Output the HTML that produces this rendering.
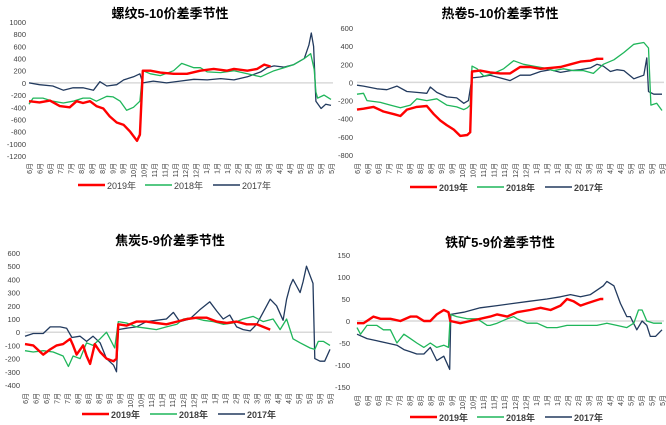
<!DOCTYPE html>
<html><head><meta charset="utf-8"><style>
body{margin:0;background:#fff;}
svg{display:block;font-family:"Liberation Sans","Noto Sans CJK SC",sans-serif;}
</style></head><body>
<svg id="chart" width="666" height="425" viewBox="0 0 666 425"></svg>
<script>
const NS="http://www.w3.org/2000/svg";
const svg=document.getElementById("chart");
const monthLabels=["6月","6月","6月","7月","7月","8月","8月","8月","9月","9月","10月","10月","11月","11月","11月","12月","12月","1月","1月","1月","2月","2月","3月","3月","4月","4月","5月","5月","5月","5月"];
const seriesNames=["2019年","2018年","2017年"];
const seriesColors=["#ff0000","#1fb65a","#223a5e"];
// P1 rebar 5-10 (x in weeks of season, y in yuan)
const p1Ticks=[1000,800,600,400,200,0,-200,-400,-600,-800,-1000,-1200];
const p1Red=[[0,-300],[1.8,-320],[3.6,-290],[5.3,-380],[7,-400],[8.2,-300],[9.3,-330],[10.5,-300],[11.6,-380],[12.8,-420],[13.9,-550],[15.1,-650],[16.3,-690],[17.4,-800],[18.6,-950],[19.1,-850],[19.6,200],[20.9,200],[22.6,170],[24.9,150],[27.2,150],[29.5,200],[31.8,230],[34.1,200],[35.3,230],[37.6,200],[39.3,230],[40.5,300],[41.6,270]];
const p1Green=[[0,-350],[0.7,-250],[2.4,-250],[4.1,-300],[5.9,-330],[7.6,-300],[9.3,-250],[10.5,-250],[11.6,-300],[13.4,-220],[14.5,-230],[15.7,-300],[16.8,-450],[18,-400],[19.1,-300],[19.6,200],[20.9,150],[22.6,120],[24.9,200],[26.3,320],[28.4,250],[29.5,250],[30.7,180],[33,170],[35.3,200],[37.6,150],[39.9,100],[41,150],[42.2,200],[43.9,250],[45.6,300],[47.4,400],[48.5,480],[49.1,220],[49.4,-150],[49.7,-250],[50.8,-200],[52,-270]];
const p1Navy=[[0,0],[1.8,-30],[4.1,-50],[5.9,-120],[7.6,-80],[9.3,-80],[11.1,-120],[12.2,20],[13.4,-50],[15.1,-30],[16.3,50],[18,100],[19.1,150],[19.6,0],[21.4,30],[23.7,0],[26,30],[28.4,60],[30.7,50],[33,70],[35.3,50],[37.6,100],[39.9,180],[41,250],[42.2,280],[43.9,260],[45.6,300],[47.4,400],[48.2,620],[48.6,820],[49,600],[49.4,-300],[50.3,-420],[51.1,-350],[52,-370]];
// P2 HRC 5-10
const p2Ticks=[600,400,200,0,-200,-400,-600,-800];
const p2Red=[[0,-300],[1.1,-290],[2.8,-270],[4.5,-320],[6.3,-350],[7.4,-370],[8.5,-300],[10.2,-270],[11.9,-260],[13.1,-350],[14.2,-420],[15.3,-470],[16.5,-520],[17.6,-590],[18.8,-580],[19.3,-550],[19.6,120],[21,130],[22.7,110],[24.4,100],[26.1,100],[27.8,170],[29.5,170],[31.3,150],[33,160],[34.7,170],[36.4,200],[38.1,230],[39.8,240],[40.9,260],[42,260]];
const p2Green=[[0,-130],[1.1,-120],[1.7,-200],[4,-220],[5.7,-250],[7.4,-280],[9.1,-250],[10.2,-180],[11.9,-200],[13.6,-180],[15.3,-250],[17,-270],[18.2,-300],[18.8,-280],[19.3,-250],[19.6,180],[20.5,150],[21.6,70],[23.3,100],[25,150],[26.7,240],[28.4,200],[30.1,180],[31.8,160],[33.5,130],[35.2,150],[36.9,130],[38.6,130],[40.3,100],[42,200],[43.8,250],[45.5,330],[47.2,420],[48.9,440],[49.7,380],[50.1,-250],[51.1,-230],[52,-310]];
const p2Navy=[[0,-30],[1.1,-40],[3.4,-70],[5.1,-80],[6.8,-40],[8.5,-100],[10.2,-110],[11.9,-120],[12.5,-50],[13.6,-110],[15.3,-160],[17,-170],[18.2,-230],[19,-200],[19.6,50],[21,60],[22.7,80],[24.4,50],[26.1,20],[27.8,80],[29.5,80],[31.3,120],[33,140],[34.7,110],[36.4,130],[38.1,140],[39.8,160],[40.9,200],[42,180],[43.2,120],[44.3,140],[45.5,130],[47.2,40],[48.9,80],[49.4,270],[49.7,-100],[50.6,-130],[52,-130]];
// P3 coking coal 5-9
const p3Ticks=[600,500,400,300,200,100,0,-100,-200,-300,-400];
const p3Red=[[0,-90],[1.4,-100],[2.6,-150],[3.1,-170],[4.3,-130],[5.4,-100],[6.5,-90],[7.7,-50],[8.2,-100],[8.8,-170],[9.9,-100],[10.5,-180],[11.1,-240],[11.9,-90],[12.8,-150],[13.9,-200],[15.1,-220],[15.6,-200],[15.9,60],[17.3,50],[19,80],[20.7,80],[22.4,70],[24.1,60],[25.9,80],[27.6,100],[29.3,110],[31,110],[32.7,80],[34.4,70],[36.1,80],[37.8,60],[39.5,60],[41.2,30],[41.8,20]];
const p3Green=[[0,-140],[1.4,-150],[3.1,-140],[4.8,-150],[6.5,-180],[7.4,-260],[8.2,-180],[9.4,-200],[10.5,-80],[11.6,-100],[12.8,-50],[13.9,0],[14.5,-50],[15.3,-120],[15.9,80],[17.3,70],[19,40],[20.7,30],[22.4,20],[24.1,40],[25.9,60],[27,100],[28.7,110],[30.4,90],[32.1,80],[33.8,60],[35.5,70],[37.2,100],[38.9,120],[40.6,80],[42.3,100],[43.5,20],[44.6,100],[45.7,-50],[46.9,-80],[48.6,-120],[49.4,-130],[50,-70],[50.9,-70],[52,-100]];
const p3Navy=[[0,-30],[1.4,-10],[3.1,-10],[4.3,40],[6,40],[7.1,30],[8,-40],[9.4,-30],[10.5,-70],[11.6,-30],[12.8,-80],[13.9,-200],[15.1,-250],[15.6,-300],[15.9,20],[17.3,30],[19,40],[20.7,80],[22.4,90],[24.1,100],[25.3,150],[26.4,80],[28.1,100],[29.8,170],[31.5,230],[32.7,160],[33.8,100],[34.9,130],[36.1,40],[37.2,20],[38.4,10],[39.5,60],[40.6,150],[41.8,250],[42.9,200],[44,90],[44.6,250],[45.2,350],[45.7,400],[46.3,350],[46.9,300],[47.4,380],[48,500],[49.1,370],[49.4,-200],[50.3,-220],[51.1,-220],[52,-130]];
// P4 iron ore 5-9
const p4Ticks=[150,100,50,0,-50,-100,-150];
const p4Red=[[0,-5],[1.1,-5],[2.8,10],[4,5],[5.7,5],[7.4,0],[9.1,10],[10.2,10],[11.4,0],[12.5,0],[13.6,15],[14.8,25],[15.6,20],[15.9,0],[17.6,-5],[19.3,0],[21,5],[22.7,10],[23.9,15],[25.6,10],[27.3,20],[29.5,25],[31.3,30],[33,25],[34.7,35],[35.8,50],[36.9,45],[38.1,35],[39.2,40],[40.3,45],[41.5,50],[42,50]];
const p4Green=[[0,-15],[0.6,-30],[1.7,-10],[3.4,-10],[4.5,-20],[5.7,-20],[6.8,-50],[8,-30],[9.1,-40],[10.2,-50],[11.4,-60],[12.5,-50],[13.6,-60],[14.8,-55],[15.6,-60],[15.9,15],[17,10],[18.8,5],[20.5,5],[22.2,-10],[22.7,-10],[23.9,-5],[25.6,5],[26.7,10],[27.3,5],[29,-5],[30.7,-5],[32.4,-15],[34.1,-15],[35.8,-10],[37.5,-10],[39.2,-10],[40.9,-10],[42.6,-5],[44.3,-10],[46,-15],[47.2,-5],[48,25],[48.6,25],[49.4,0],[50.6,-5],[52,-5]];
const p4Navy=[[0,-30],[1.7,-40],[3.4,-45],[5.1,-50],[6.8,-55],[8,-65],[9.1,-70],[10.2,-75],[11.4,-75],[12.5,-60],[13.6,-90],[14.8,-80],[15.8,-110],[16,15],[18.2,20],[21,30],[23.9,35],[26.7,40],[29.5,45],[32.4,50],[34.7,55],[36.4,60],[38.1,55],[39.8,60],[40.9,70],[42,80],[42.6,90],[43.8,80],[44.9,40],[46,10],[46.6,10],[47.7,-20],[48.6,0],[49.4,-10],[50,-35],[50.9,-35],[52,-20]];

const panels=[
 {name:"rebar",title:"螺纹5-10价差季节性",tx:170,ty:13,x0:29,x1:331,ymax:1000,ymin:-1200,yTop:22,yBot:156,lblX:26,xlY:163,legY:185,legX:[78,145,213],ticks:p1Ticks,series:[p1Red,p1Green,p1Navy],bold:false},
 {name:"hrc",title:"热卷5-10价差季节性",tx:500,ty:13,x0:357,x1:662,ymax:600,ymin:-800,yTop:28,yBot:155,lblX:353,xlY:163,legY:187,legX:[410,477,545],ticks:p2Ticks,series:[p2Red,p2Green,p2Navy],bold:true},
 {name:"coking-coal",title:"焦炭5-9价差季节性",tx:170,ty:240,x0:25,x1:330,ymax:600,ymin:-400,yTop:253,yBot:385,lblX:20,xlY:393,legY:414,legX:[82,150,218],ticks:p3Ticks,series:[p3Red,p3Green,p3Navy],bold:true},
 {name:"iron-ore",title:"铁矿5-9价差季节性",tx:500,ty:242,x0:357,x1:662,ymax:150,ymin:-150,yTop:255,yBot:387,lblX:350,xlY:395,legY:417,legX:[410,477,545],ticks:p4Ticks,series:[p4Red,p4Green,p4Navy],bold:true}
];
function mk(tag,attrs,parent){const e=document.createElementNS(NS,tag);for(const k in attrs)e.setAttribute(k,attrs[k]);(parent||svg).appendChild(e);return e;}
panels.forEach(p=>{
 const g=mk("g",{});
 
 
 const xs=w=>p.x0+(w/52)*(p.x1-p.x0);
 const ys=v=>p.yTop+(p.ymax-v)/(p.ymax-p.ymin)*(p.yBot-p.yTop);
 const t=mk("text",{x:p.tx,y:p.ty+5,"text-anchor":"middle","font-size":"13","font-weight":"bold",fill:"#000"},g);
 t.textContent=p.title;
 
 
 p.ticks.forEach(v=>{
  const l=mk("text",{x:p.lblX,y:ys(v)+3,"text-anchor":"end","font-size":"7.5",fill:"#404040"},g);
  l.textContent=String(v);
  
  
 });
 const z=mk("line",{x1:p.x0,x2:p.x1+2,y1:ys(0),y2:ys(0),stroke:"#d9d9d9","stroke-width":"1.5"},g);
 
 
 const step=(p.x1-p.x0)/(monthLabels.length-1);
 monthLabels.forEach((m,i)=>{
  const x=p.x0+i*step+3;
  const l=mk("text",{x:x,y:p.xlY,transform:`rotate(-90 ${x} ${p.xlY})`,"text-anchor":"end","font-size":"7",fill:"#404040"},g);
  l.textContent=m;
  
  
 });
 [2,1,0].forEach(si=>{
  const pts=p.series[si].map(d=>xs(d[0]).toFixed(1)+","+ys(d[1]).toFixed(1)).join(" ");
  const pl=mk("polyline",{points:pts,fill:"none",stroke:seriesColors[si],"stroke-width":si==0?2.4:1.3,"stroke-linejoin":"round"},g);
  
  
 });
 seriesNames.forEach((n,si)=>{
  const lx=p.legX[si];
  const ll=mk("line",{x1:lx,x2:lx+27,y1:p.legY,y2:p.legY,stroke:seriesColors[si],"stroke-width":si==0?2.5:1.5},g);
  
  
  const lt=mk("text",{x:lx+29,y:p.legY+4,"font-size":"9","font-weight":p.bold?"bold":"normal",fill:"#404040"},g);
  lt.textContent=n;
  
  
 });
});
</script>
</body></html>
